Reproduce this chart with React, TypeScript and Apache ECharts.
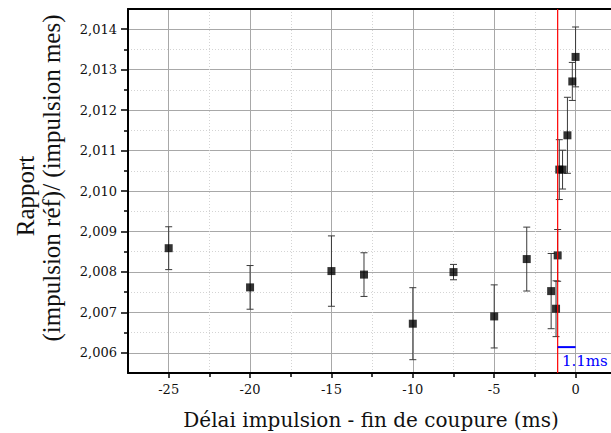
import React, { useEffect, useRef } from 'react';
import * as echarts from 'echarts';

const delays = [-25, -20, -15, -13, -10, -7.5, -5, -3, -1.5, -1.2, -1.1, -1.0, -0.8, -0.5, -0.2, 0];
const ratios = [2.008586, 2.007617, 2.00802, 2.007933, 2.006719, 2.007995, 2.006899, 2.008317, 2.007525, 2.007089, 2.008408, 2.010529, 2.010529, 2.011377, 2.012709, 2.013315];
const errors = [0.00053, 0.00054, 0.00087, 0.00054, 0.00089, 0.00019, 0.00078, 0.00079, 0.00093, 0.00069, 0.00064, 0.00074, 0.00048, 0.00094, 0.00047, 0.00074];

const xMajorTicks = [-25, -20, -15, -10, -5, 0];
const xMinorTicks = [-22.5, -17.5, -12.5, -7.5, -2.5];
const yMajorTicks = [2.006, 2.007, 2.008, 2.009, 2.01, 2.011, 2.012, 2.013, 2.014];
const yMinorTicks = [2.0065, 2.0075, 2.0085, 2.0095, 2.0105, 2.0115, 2.0125, 2.0135];

const cutoffDelay = -1.1;
const gapStart = -1.1;
const gapEnd = 0;
const gapLevel = 2.00614;
const gapLabel = '1.1ms';

const xTitle = 'Délai impulsion - fin de coupure (ms)';
const yTitle1 = 'Rapport';
const yTitle2 = '(impulsion réf)/ (impulsion mes)';

const X_MIN = -27.5;
const X_MAX = 2.3;
const Y_MIN = 2.0055;
const Y_MAX = 2.0145;

const SERIF = '"DejaVu Serif", serif';

export default function App() {
  const ref = useRef<HTMLDivElement>(null);
  useEffect(() => {
    if (!ref.current) return;
    const chart = echarts.init(ref.current, undefined, { renderer: 'svg' });
    const points = delays.map((d, i) => [d, ratios[i]]);
    const bars = delays.map((d, i) => [d, ratios[i] - errors[i], ratios[i] + errors[i]]);

    const baseX = { type: 'value', min: X_MIN, max: X_MAX, gridIndex: 0 };
    const baseY = { type: 'value', min: Y_MIN, max: Y_MAX, gridIndex: 0 };

    chart.setOption({
      animation: false,
      backgroundColor: '#ffffff',
      grid: { left: 128, top: 9, right: 27, bottom: 60, containLabel: false },
      xAxis: [
        {
          ...baseX,
          position: 'bottom',
          axisLine: { show: true, onZero: false, lineStyle: { color: '#000', width: 2 } },
          axisTick: { show: true, customValues: xMajorTicks, length: 5, lineStyle: { color: '#000', width: 1.5 } },
          axisLabel: {
            show: true,
            customValues: xMajorTicks,
            margin: 10,
            color: '#111',
            fontFamily: SERIF,
            fontSize: 13,
            formatter: (v: number) => String(v),
          },
          splitLine: { show: true, lineStyle: { color: '#a8a8a8', width: 1, type: 'solid' } },
        },
        {
          ...baseX,
          position: 'bottom',
          axisLine: { show: false, onZero: false },
          axisTick: { show: true, customValues: xMinorTicks, length: 4, lineStyle: { color: '#000', width: 1.5 } },
          axisLabel: { show: false },
          splitLine: { show: true, lineStyle: { color: '#d4d4d4', width: 1, type: [1, 2] } },
        },
        {
          ...baseX,
          position: 'top',
          axisLine: { show: true, onZero: false, lineStyle: { color: '#000', width: 2 } },
          axisTick: { show: false },
          axisLabel: { show: false },
          splitLine: { show: false },
        },
      ],
      yAxis: [
        {
          ...baseY,
          position: 'left',
          axisLine: { show: true, onZero: false, lineStyle: { color: '#000', width: 2 } },
          axisTick: { show: true, customValues: yMajorTicks, length: 7, lineStyle: { color: '#000', width: 1.5 } },
          axisLabel: {
            show: true,
            customValues: yMajorTicks,
            margin: 11,
            color: '#111',
            fontFamily: SERIF,
            fontSize: 13,
            formatter: (v: number) => v.toFixed(3).replace('.', ','),
          },
          splitLine: { show: true, lineStyle: { color: '#a8a8a8', width: 1, type: 'solid' } },
        },
        {
          ...baseY,
          position: 'left',
          axisLine: { show: false, onZero: false },
          axisTick: { show: true, customValues: yMinorTicks, length: 4, lineStyle: { color: '#000', width: 1.5 } },
          axisLabel: { show: false },
          splitLine: { show: true, lineStyle: { color: '#d4d4d4', width: 1, type: [1, 2] } },
        },
      ],
      series: [
        {
          type: 'custom',
          xAxisIndex: 0,
          yAxisIndex: 0,
          data: bars,
          z: 3,
          silent: true,
          renderItem: (params: any, api: any) => {
            const x = api.value(0);
            const lo = api.coord([x, api.value(1)]);
            const hi = api.coord([x, api.value(2)]);
            const cap = 3.5;
            const style = { stroke: '#3a3a3a', lineWidth: 1, fill: 'none' };
            return {
              type: 'group',
              children: [
                { type: 'line', shape: { x1: lo[0], y1: lo[1], x2: hi[0], y2: hi[1] }, style },
                { type: 'line', shape: { x1: lo[0] - cap, y1: lo[1], x2: lo[0] + cap, y2: lo[1] }, style },
                { type: 'line', shape: { x1: hi[0] - cap, y1: hi[1], x2: hi[0] + cap, y2: hi[1] }, style },
              ],
            };
          },
        },
        {
          type: 'scatter',
          xAxisIndex: 0,
          yAxisIndex: 0,
          data: points,
          symbol: 'rect',
          symbolSize: 8,
          z: 4,
          itemStyle: { color: '#000' },
        },
        {
          type: 'custom',
          name: 'cutoff',
          xAxisIndex: 0,
          yAxisIndex: 0,
          data: [[cutoffDelay]],
          z: 6,
          silent: true,
          clip: false,
          renderItem: (params: any, api: any) => {
            const x = api.value(0);
            const a = api.coord([x, Y_MIN]);
            const b = api.coord([x, Y_MAX]);
            return {
              type: 'line',
              shape: { x1: a[0], y1: a[1], x2: b[0], y2: b[1] },
              style: { stroke: '#ff0000', lineWidth: 1.2, fill: 'none' },
            };
          },
        },
        {
          type: 'custom',
          name: 'gap',
          xAxisIndex: 0,
          yAxisIndex: 0,
          data: [[gapStart, gapEnd, gapLevel]],
          z: 6,
          silent: true,
          renderItem: (params: any, api: any) => {
            const a = api.coord([api.value(0), api.value(2)]);
            const b = api.coord([api.value(1), api.value(2)]);
            return {
              type: 'line',
              shape: { x1: a[0], y1: a[1], x2: b[0], y2: b[1] },
              style: { stroke: '#0000ff', lineWidth: 2, fill: 'none' },
            };
          },
        },
      ],
      graphic: [
        {
          type: 'text',
          x: 371,
          y: 420,
          style: {
            text: xTitle,
            fontFamily: SERIF,
            fontSize: 20,
            fill: '#111',
            textAlign: 'center',
            textVerticalAlign: 'middle',
          },
        },
        {
          type: 'text',
          x: 25,
          y: 196,
          rotation: Math.PI / 2,
          style: {
            text: yTitle1,
            fontFamily: '"Liberation Serif", serif',
            fontSize: 25,
            fill: '#111',
            textAlign: 'center',
            textVerticalAlign: 'middle',
          },
        },
        {
          type: 'text',
          x: 51,
          y: 178,
          rotation: Math.PI / 2,
          style: {
            text: yTitle2,
            fontFamily: '"Liberation Serif", serif',
            fontSize: 25,
            fill: '#111',
            textAlign: 'center',
            textVerticalAlign: 'middle',
          },
        },
        {
          type: 'text',
          x: 562,
          y: 361,
          style: {
            text: gapLabel,
            fontFamily: SERIF,
            fontSize: 15,
            fill: '#0000ff',
            textAlign: 'left',
            textVerticalAlign: 'middle',
          },
        },
      ],
    });
    return () => chart.dispose();
  }, []);

  return (
    <div style={{ position: 'fixed', left: 0, top: 0, width: 611, height: 433, overflow: 'hidden', background: '#fff' }}>
      <div ref={ref} style={{ width: 640, height: 433 }} />
    </div>
  );
}
